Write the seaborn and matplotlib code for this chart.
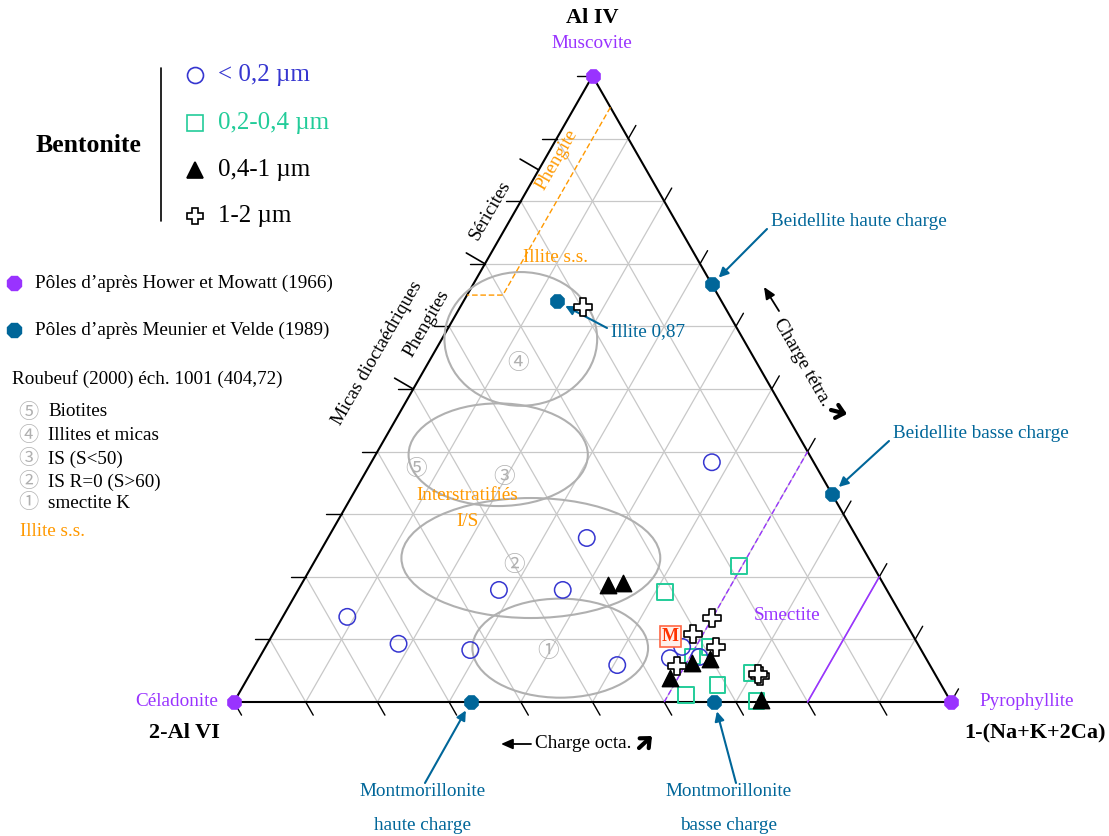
import numpy as np
import pandas as pd
import matplotlib
matplotlib.use("Agg")
import matplotlib.pyplot as plt
from matplotlib.patches import Ellipse, FancyArrowPatch
import seaborn as sns

# ternary values: al_iv = top component, charge = 1-(Na+K+2Ca) (right), rest = 2-Al VI
circ_al_iv  = [0.383, 0.262, 0.179, 0.179, 0.136, 0.093, 0.083, 0.059, 0.088, 0.070, 0.072]
circ_charge = [0.475, 0.361, 0.280, 0.369, 0.090, 0.183, 0.288, 0.505, 0.581, 0.573, 0.613]

sq_al_iv  = [0.217, 0.176, 0.088, 0.073, 0.011, 0.027, 0.046, 0.002]
sq_charge = [0.596, 0.513, 0.620, 0.603, 0.625, 0.661, 0.699, 0.728]

tri_al_iv  = [0.187, 0.190, 0.038, 0.062, 0.069, 0.003]
tri_charge = [0.428, 0.448, 0.589, 0.608, 0.630, 0.733]

cross_al_iv  = [0.631, 0.134, 0.109, 0.088, 0.058, 0.042, 0.045]
cross_charge = [0.171, 0.600, 0.586, 0.628, 0.589, 0.713, 0.708]

m_al_iv, m_charge = 0.105, 0.556

hower_names  = ["Muscovite", "Céladonite", "Pyrophyllite"]
hower_al_iv  = [1.0, 0.0, 0.0]
hower_charge = [0.0, 0.0, 1.0]

meunier_names  = ["Beidellite haute charge", "Beidellite basse charge", "Illite 0,87",
                  "Montmorillonite haute charge", "Montmorillonite basse charge"]
meunier_al_iv  = [0.667, 0.333, 0.640, 0.0, 0.0]
meunier_charge = [0.333, 0.667, 0.130, 0.33, 0.67]

# Roubeuf zones (centre al_iv, centre charge, width, height)
zone_al_iv   = [0.580, 0.395, 0.230, 0.086]
zone_charge  = [0.110, 0.171, 0.299, 0.412]
zone_w       = [0.213, 0.250, 0.361, 0.245]
zone_h       = [0.185, 0.142, 0.166, 0.137]
zlabel_txt    = ["④", "⑤", "③", "②", "①"]
zlabel_al_iv  = [0.542, 0.372, 0.359, 0.219, 0.081]
zlabel_charge = [0.125, 0.068, 0.197, 0.281, 0.397]

mica_bounds = [0.5, 0.7, 0.85]

PURPLE = "#9933ff"
POLE_BLUE = "#006699"
C_BLUE = "#3636d0"
TEAL = "#22cc99"
ORANGE = "#ff9900"
GRID = "#c8c8c8"
ZONE = "#b0b0b0"

W, H = 1109, 836


def tern(a, b):
    a = np.asarray(a, dtype=float)
    b = np.asarray(b, dtype=float)
    return b + a / 2, a * np.sqrt(3) / 2


def px(x, y):
    return x / W, 1 - y / H


sns.set_style("white")
plt.rcParams["font.family"] = ["Liberation Serif", "Noto Sans CJK JP", "DejaVu Sans"]
plt.rcParams["text.color"] = "black"

fig = plt.figure(figsize=(W / 100, H / 100), dpi=100)
ax = fig.add_axes([0, 0, 1, 1])
ax.set_xlim(-234 / 717, (W - 234) / 717)
ax.set_ylim(-(H - 702) / 722.85, 702 / 722.85)
ax.axis("off")

# grid
for k in range(1, 10):
    f = k / 10
    for p, q in [((f, 0), (f, 1 - f)), ((0, f), (1 - f, f)), ((0, 1 - f), (1 - f, 0))]:
        x0, y0 = tern(*p)
        x1, y1 = tern(*q)
        ax.plot([x0, x1], [y0, y1], color=GRID, lw=0.9, zorder=1)

# frame
fx, fy = tern([0, 0, 1, 0], [0, 1, 0, 0])
ax.plot(fx, fy, color="black", lw=1.5, zorder=2)

# ticks
L = 0.021
for k in range(11):
    f = k / 10
    if k > 0:
        x, y = tern(f, 0)
        ax.plot([x, x - L], [y, y], color="black", lw=1, zorder=2)
    if k < 10:
        x, y = tern(0, f)
        ax.plot([x, x + 0.5 * L], [y, y - 0.866 * L], color="black", lw=1, zorder=2)
        x, y = tern(f, 1 - f)
        ax.plot([x, x + 0.5 * L], [y, y + 0.866 * L], color="black", lw=1, zorder=2)
for f in mica_bounds:
    x, y = tern(f, 0)
    ax.plot([x, x - 0.866 * 0.03], [y, y + 0.5 * 0.03], color="black", lw=1.2, zorder=2)

# Roubeuf zones
zx, zy = tern(zone_al_iv, zone_charge)
for cx, cy, w, h in zip(zx, zy, zone_w, zone_h):
    ax.add_patch(Ellipse((cx, cy), w, h, fill=False, ec=ZONE, lw=1.5, zorder=2))
lx, ly = tern(zlabel_al_iv, zlabel_charge)
for t, x, y in zip(zlabel_txt, lx, ly):
    ax.text(x, y, t, color=ZONE, fontsize=15.5, ha="center", va="center", zorder=2,
            family=["Noto Sans CJK JP", "DejaVu Sans"])

# phengite / illite field
px_, py_ = tern([0.95, 0.65, 0.65], [0.05, 0.05, 0.0])
ax.plot(px_, py_, color=ORANGE, lw=1, ls=(0, (4, 2)), zorder=2)
# smectite limits
sx, sy = tern([0, 0.4], [0.6, 0.6])
ax.plot(sx, sy, color=PURPLE, lw=1, ls=(0, (4, 2)), zorder=2)
sx, sy = tern([0, 0.2], [0.8, 0.8])
ax.plot(sx, sy, color=PURPLE, lw=1.2, zorder=2)

# samples
x, y = tern(sq_al_iv, sq_charge)
sns.scatterplot(x=x, y=y, marker="s", s=125, facecolor="none", edgecolor=TEAL,
                linewidth=1.4, ax=ax, zorder=4)
x, y = tern(circ_al_iv, circ_charge)
sns.scatterplot(x=x, y=y, marker="o", s=140, facecolor="none", edgecolor=C_BLUE,
                linewidth=1.1, ax=ax, zorder=5)
x, y = tern(tri_al_iv, tri_charge)
sns.scatterplot(x=x, y=y, marker="^", s=140, color="black", edgecolor="black",
                linewidth=1, ax=ax, zorder=6)
x, y = tern(cross_al_iv, cross_charge)
sns.scatterplot(x=x, y=y, marker="P", s=170, facecolor="white", edgecolor="black",
                linewidth=1.2, ax=ax, zorder=7)
mx, my = tern(m_al_iv, m_charge)
ax.text(mx, my, "M", color="#ff3300", fontsize=13, fontweight="bold", ha="center",
        va="center", zorder=8,
        bbox=dict(boxstyle="square,pad=0.12", fc="#fff0ea", ec="#ff6644", lw=1.2))

# poles
x, y = tern(hower_al_iv, hower_charge)
sns.scatterplot(x=x, y=y, marker="8", s=130, color=PURPLE, edgecolor=PURPLE,
                linewidth=0, ax=ax, zorder=8, clip_on=False)
x, y = tern(meunier_al_iv, meunier_charge)
sns.scatterplot(x=x, y=y, marker="8", s=130, color=POLE_BLUE, edgecolor=POLE_BLUE,
                linewidth=0, ax=ax, zorder=8)

ff = fig.transFigure
TXT = 13.8
BIG = 16

# vertex labels
fig.text(*px(592, 18), "Al IV", fontsize=BIG, fontweight="bold", ha="center", va="center")
fig.text(*px(592, 43), hower_names[0], fontsize=TXT, color=PURPLE, ha="center", va="center")
fig.text(*px(218, 702), hower_names[1], fontsize=TXT, color=PURPLE, ha="right", va="center")
fig.text(*px(184, 733), "2-Al VI", fontsize=BIG, fontweight="bold", ha="center", va="center")
fig.text(*px(979, 702), hower_names[2], fontsize=TXT, color=PURPLE, ha="left", va="center")
fig.text(*px(1035, 733), "1-(Na+K+2Ca)", fontsize=BIG, fontweight="bold", ha="center", va="center")

# Meunier & Velde annotations
arrow = dict(arrowstyle="-|>", color=POLE_BLUE, lw=1.5, mutation_scale=14, shrinkA=0, shrinkB=7)
mx, my = tern(meunier_al_iv, meunier_charge)
fig.text(*px(771, 221), meunier_names[0], fontsize=TXT, color=POLE_BLUE, ha="left", va="center")
ax.annotate("", xy=(mx[0], my[0]), xytext=px(767, 229), textcoords="figure fraction", arrowprops=arrow)
fig.text(*px(893, 434), meunier_names[1], fontsize=TXT, color=POLE_BLUE, ha="left", va="center")
ax.annotate("", xy=(mx[1], my[1]), xytext=px(889, 441), textcoords="figure fraction", arrowprops=arrow)
fig.text(*px(611, 332), meunier_names[2], fontsize=TXT, color=POLE_BLUE, ha="left", va="center")
ax.annotate("", xy=(mx[2], my[2]), xytext=px(607, 328), textcoords="figure fraction", arrowprops=arrow)
fig.text(*px(423, 792), "Montmorillonite", fontsize=TXT, color=POLE_BLUE, ha="center", va="center")
fig.text(*px(423, 826), "haute charge", fontsize=TXT, color=POLE_BLUE, ha="center", va="center")
ax.annotate("", xy=(mx[3], my[3]), xytext=px(425, 783), textcoords="figure fraction", arrowprops=arrow)
fig.text(*px(729, 792), "Montmorillonite", fontsize=TXT, color=POLE_BLUE, ha="center", va="center")
fig.text(*px(729, 826), "basse charge", fontsize=TXT, color=POLE_BLUE, ha="center", va="center")
ax.annotate("", xy=(mx[4], my[4]), xytext=px(736, 783), textcoords="figure fraction", arrowprops=arrow)

# charge directions
thin = dict(arrowstyle="-|>,head_length=0.5,head_width=0.22", color="black", lw=1.3,
            mutation_scale=14, shrinkA=0, shrinkB=0)
bold = dict(arrowstyle="->,head_length=0.45,head_width=0.4", color="black", lw=3,
            mutation_scale=12, shrinkA=0, shrinkB=0)
fig.text(*px(583, 743), "Charge octa.", fontsize=TXT, ha="center", va="center")
fig.add_artist(FancyArrowPatch(px(531, 744), px(501, 744), transform=ff, **thin))
fig.add_artist(FancyArrowPatch(px(639, 748), px(652, 736), transform=ff, **bold))
fig.text(*px(802, 362), "Charge tétra.", fontsize=TXT, ha="center", va="center", rotation=-60,
         rotation_mode="anchor")
fig.add_artist(FancyArrowPatch(px(779, 311), px(764, 287), transform=ff, **thin))
fig.add_artist(FancyArrowPatch(px(831, 410), px(847, 414), transform=ff, **bold))

# left side mica labels
fig.text(*px(490, 210), "Séricites", fontsize=TXT, rotation=60, ha="center", va="center")
fig.text(*px(427, 323), "Phengites", fontsize=TXT, rotation=60, ha="center", va="center")
fig.text(*px(377, 353), "Micas dioctaédriques", fontsize=TXT, rotation=60, ha="center", va="center")

# fields
fig.text(*px(557, 160), "Phengite", fontsize=TXT, color=ORANGE, rotation=60, ha="center", va="center")
fig.text(*px(555, 258), "Illite s.s.", fontsize=TXT, color=ORANGE, ha="center", va="center")
fig.text(*px(467, 496), "Interstratifiés", fontsize=TXT, color=ORANGE, ha="center", va="center")
fig.text(*px(467, 521), "I/S", fontsize=TXT, color=ORANGE, ha="center", va="center")
fig.text(*px(787, 616), "Smectite", fontsize=TXT, color=PURPLE, ha="center", va="center")

# legend - bentonite
fig.text(*px(88, 146), "Bentonite", fontsize=18.5, fontweight="bold", ha="center", va="center")
ax.plot([161 / W, 161 / W], [1 - 68 / H, 1 - 221 / H], color="black", lw=1.2, transform=ff)
leg = [("o", "none", C_BLUE, "< 0,2 µm", C_BLUE, 75),
       ("s", "none", TEAL, "0,2-0,4 µm", TEAL, 123),
       ("^", "black", "black", "0,4-1 µm", "black", 170),
       ("P", "white", "black", "1-2 µm", "black", 216)]
for mk, fc, ec, lab, tc, yy in leg:
    ax.plot([195 / W], [1 - yy / H], marker=mk, ms=11.5, mfc=fc, mec=ec, mew=1.2,
            ls="none", transform=ff, clip_on=False)
    fig.text(*px(218, yy), lab, fontsize=18, color=tc, ha="left", va="center")

# legend - poles
ax.plot([14 / W], [1 - 283 / H], marker="8", ms=11, color=PURPLE, transform=ff, clip_on=False)
fig.text(*px(35, 283), "Pôles d’après Hower et Mowatt (1966)", fontsize=TXT, ha="left", va="center")
ax.plot([14 / W], [1 - 330 / H], marker="8", ms=11, color=POLE_BLUE, transform=ff, clip_on=False)
fig.text(*px(35, 330), "Pôles d’après Meunier et Velde (1989)", fontsize=TXT, ha="left", va="center")
fig.text(*px(12, 379), "Roubeuf (2000) éch. 1001 (404,72)", fontsize=TXT, ha="left", va="center")
roubeuf = [("⑤", "Biotites", 412), ("④", "Illites et micas", 436), ("③", "IS (S<50)", 459),
           ("②", "IS R=0 (S>60)", 482), ("①", "smectite K", 503)]
for d, lab, yy in roubeuf:
    fig.text(*px(28, yy), d, fontsize=14.5, color=ZONE, ha="center", va="center",
             family=["Noto Sans CJK JP", "DejaVu Sans"])
    fig.text(*px(48, yy), lab, fontsize=TXT, ha="left", va="center")
fig.text(*px(20, 532), "Illite s.s.", fontsize=TXT, color=ORANGE, ha="left", va="center")

fig.savefig("out.png", dpi=100)
